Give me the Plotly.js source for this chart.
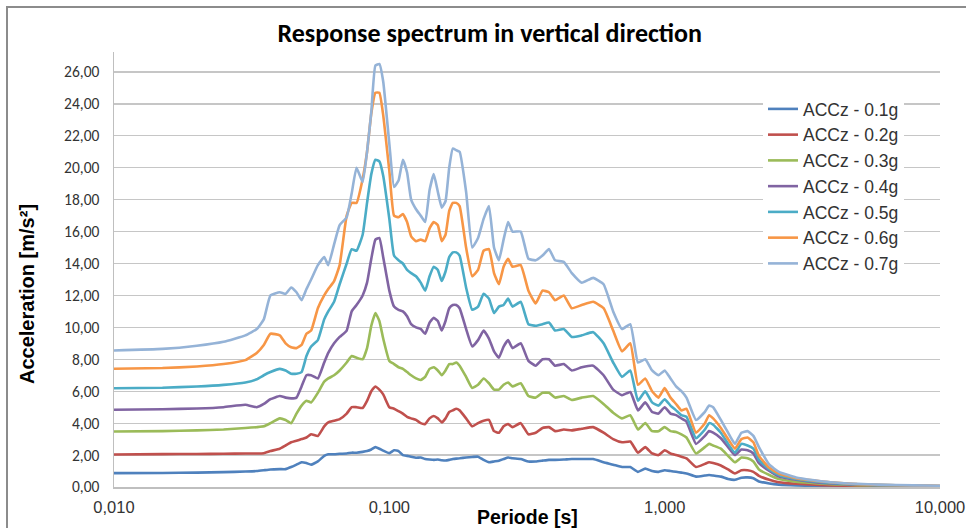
<!DOCTYPE html>
<html>
<head>
<meta charset="utf-8">
<script src="https://cdn.plot.ly/plotly-3.0.1.min.js"></script>
<style>
  html, body { margin:0; padding:0; background:#fff; overflow:hidden; }
  #chart { position:absolute; left:0; top:0; width:966px; height:528px; }
  #frame { position:absolute; left:6px; top:6px; width:1000px; height:600px;
           border-left:2px solid #8c8c8c; border-top:2px solid #8c8c8c; pointer-events:none; }
</style>
</head>
<body>
<div id="chart"></div>
<div id="frame"></div>
<script>
// Period [s]
const periods = [0.01,0.015,0.02,0.025,0.03,0.033,0.035,0.037,0.04,0.042,
  0.044,0.046,0.048,0.05,0.052,0.055,0.058,0.06,0.063,0.066,
  0.07,0.073,0.076,0.08,0.083,0.086,0.089,0.092,0.095,0.1,
  0.104,0.108,0.112,0.116,0.12,0.125,0.13,0.135,0.14,0.145,
  0.15,0.155,0.16,0.165,0.17,0.175,0.18,0.19,0.2,0.21,
  0.22,0.23,0.24,0.25,0.26,0.27,0.28,0.3,0.32,0.34,
  0.36,0.38,0.4,0.43,0.46,0.5,0.55,0.6,0.65,0.7,
  0.75,0.8,0.85,0.9,0.95,1.0,1.05,1.1,1.15,1.2,
  1.3,1.4,1.45,1.5,1.6,1.7,1.8,1.9,2.0,2.1,
  2.2,2.4,2.6,3.0,3.5,4,5,6,8,10];

// Acceleration [m/s²]
const acc01 = [0.87,0.88,0.9,0.93,0.97,1.0,1.05,1.1,1.12,1.12,
  1.25,1.4,1.55,1.5,1.4,1.6,1.95,2.05,2.05,2.08,
  2.1,2.15,2.15,2.2,2.25,2.35,2.5,2.4,2.28,2.12,
  2.3,2.25,2.0,1.95,1.9,1.83,1.85,1.75,1.72,1.7,
  1.72,1.68,1.66,1.7,1.75,1.78,1.8,1.85,1.88,1.9,
  1.7,1.55,1.6,1.65,1.75,1.85,1.8,1.75,1.6,1.6,
  1.65,1.7,1.7,1.72,1.75,1.75,1.75,1.55,1.4,1.25,
  1.25,0.95,1.15,1.0,0.95,1.05,1.0,0.95,0.9,0.85,
  0.65,0.72,0.75,0.72,0.65,0.5,0.45,0.58,0.6,0.55,
  0.35,0.22,0.15,0.1,0.07,0.05,0.04,0.03,0.02,0.02];
const acc02 = [2.04,2.06,2.07,2.08,2.1,2.1,2.12,2.25,2.4,2.6,
  2.8,2.9,3.0,3.1,3.3,3.2,3.8,4.05,4.15,4.25,
  4.6,5.0,5.0,4.95,5.4,6.0,6.3,6.1,5.8,5.0,
  4.9,4.75,4.6,4.4,4.3,4.2,4.0,3.95,4.3,4.45,
  4.3,4.05,4.3,4.7,4.8,4.9,4.8,4.3,3.8,4.0,
  4.15,4.2,3.5,3.4,3.8,3.95,3.75,4.0,3.3,3.4,
  3.7,3.75,3.5,3.6,3.55,3.65,3.75,3.4,3.0,2.8,
  2.85,2.15,2.5,2.1,2.0,2.3,2.1,2.0,1.9,1.8,
  1.25,1.45,1.55,1.5,1.35,1.1,0.85,1.05,1.05,0.95,
  0.7,0.45,0.3,0.2,0.14,0.1,0.07,0.05,0.04,0.03];
const acc03 = [3.48,3.5,3.55,3.6,3.7,3.75,3.8,4.0,4.3,4.2,
  4.0,4.6,5.1,5.4,5.3,5.9,6.6,6.8,7.0,7.3,
  7.8,8.2,8.1,8.0,8.7,10.1,10.9,10.4,9.3,7.9,
  7.7,7.5,7.4,7.2,7.0,6.8,6.7,6.9,7.4,7.5,
  7.3,7.0,7.3,7.7,7.7,7.8,7.6,6.9,6.2,6.4,
  6.8,6.5,6.1,6.1,6.4,6.55,6.3,6.5,5.7,5.6,
  5.9,5.9,5.6,5.7,5.45,5.6,5.7,5.2,4.65,4.3,
  4.5,3.6,4.0,3.5,3.5,3.75,3.5,3.45,3.3,3.1,
  2.1,2.5,2.7,2.6,2.4,1.95,1.55,1.85,1.8,1.6,
  1.1,0.75,0.5,0.33,0.24,0.17,0.12,0.09,0.06,0.04];
const acc04 = [4.84,4.87,4.92,5.0,5.15,5.0,5.2,5.5,5.7,5.6,
  5.55,5.6,6.3,7.0,7.0,6.8,7.8,8.4,9.0,9.4,
  9.8,11.0,11.4,12.0,12.8,14.3,15.5,15.6,14.4,12.3,
  11.3,11.1,11.0,10.7,10.2,10.0,9.9,9.6,10.3,10.6,
  10.4,9.8,10.4,11.2,11.4,11.4,11.2,9.9,8.8,9.2,
  9.8,9.3,8.5,8.1,8.8,9.2,8.7,9.0,7.9,7.6,
  8.0,8.0,7.6,7.7,7.3,7.5,7.6,7.0,6.1,5.75,
  5.95,4.8,5.3,4.7,4.6,5.0,4.6,4.5,4.3,4.1,
  2.7,3.2,3.5,3.4,3.05,2.5,2.0,2.35,2.3,2.1,
  1.5,1.0,0.65,0.45,0.3,0.22,0.15,0.11,0.07,0.05];
const acc05 = [6.19,6.22,6.3,6.4,6.55,6.75,7.0,7.2,7.4,7.3,
  7.1,7.1,7.2,8.2,8.8,9.2,10.5,11.0,11.6,12.7,
  14.0,14.9,14.8,15.8,17.8,19.6,20.5,20.4,19.5,16.8,
  14.5,14.2,14.0,13.6,13.4,13.2,12.8,12.3,13.2,13.8,
  13.6,12.9,13.5,14.4,14.7,14.7,14.5,12.5,11.1,11.3,
  12.1,11.8,10.9,11.3,11.4,11.8,11.3,11.6,10.2,10.1,
  10.2,10.3,9.8,9.9,9.4,9.5,9.7,9.0,7.8,6.9,
  7.3,5.4,6.0,5.3,5.1,5.5,5.1,4.8,4.5,4.4,
  3.05,3.6,4.0,3.9,3.4,2.7,2.15,2.7,2.6,2.4,
  1.7,1.1,0.75,0.5,0.35,0.25,0.16,0.12,0.08,0.06];
const acc06 = [7.41,7.45,7.55,7.7,7.95,8.4,8.9,9.6,9.5,9.0,
  8.75,8.7,8.9,9.6,9.8,11.2,12.0,12.4,12.9,13.9,
  17.0,17.8,17.8,19.3,21.0,23.4,24.7,24.7,23.3,19.8,
  17.0,16.9,17.1,16.6,15.7,15.4,15.5,15.4,16.2,16.6,
  16.4,15.4,15.8,17.3,17.8,17.8,17.6,15.0,13.2,13.6,
  14.8,14.9,13.4,12.7,13.8,14.3,13.8,13.9,12.3,11.5,
  12.3,12.2,11.7,12.0,11.2,11.4,11.6,11.2,9.8,8.5,
  9.0,6.4,6.8,6.0,5.6,6.2,5.6,5.2,4.8,4.9,
  3.4,4.0,4.5,4.3,3.7,3.0,2.4,3.0,3.1,2.8,
  1.95,1.2,0.85,0.55,0.4,0.3,0.18,0.13,0.09,0.07];
const acc07 = [8.55,8.65,8.85,9.1,9.5,9.9,10.5,12.0,12.2,12.1,
  12.5,12.2,11.7,12.4,13.0,13.9,14.4,13.9,15.2,16.4,
  16.9,18.4,20.0,19.1,21.0,23.5,26.4,26.5,25.4,21.5,
  18.8,19.2,20.5,19.7,18.0,17.4,17.0,16.6,18.6,19.6,
  18.5,17.5,17.9,20.0,21.2,21.1,21.0,18.5,15.0,15.6,
  16.8,17.6,15.0,14.2,15.5,16.6,16.0,16.0,14.3,14.2,
  14.5,14.9,14.2,14.1,13.4,12.8,13.1,12.7,11.0,9.9,
  10.2,7.8,8.0,7.3,7.0,7.3,6.8,6.3,6.0,5.6,
  4.2,4.7,5.1,5.0,4.2,3.4,2.7,3.4,3.5,3.2,
  2.5,1.4,0.95,0.6,0.42,0.3,0.2,0.15,0.1,0.08];

const seriesNames = ['ACCz - 0.1g','ACCz - 0.2g','ACCz - 0.3g','ACCz - 0.4g','ACCz - 0.5g','ACCz - 0.6g','ACCz - 0.7g'];
const seriesColors = ['#4F81BD','#C0504D','#9BBB59','#8064A2','#4BACC6','#F79646','#95B3D7'];
const seriesValues = [acc01, acc02, acc03, acc04, acc05, acc06, acc07];

const xTickVals = [0.01, 0.1, 1, 10];
const xTickText = ['0,010', '0,100', '1,000', '10,000'];
const yTickVals = [0,2,4,6,8,10,12,14,16,18,20,22,24,26];
const yTickText = ['0,00','2,00','4,00','6,00','8,00','10,00','12,00','14,00','16,00','18,00','20,00','22,00','24,00','26,00'];

const chartTitle = 'Response spectrum in vertical direction';
const xTitle = 'Periode [s]';
const yTitle = 'Acceleration [m/s²]';

const traces = seriesValues.map((vals, i) => ({
  type: 'scatter', mode: 'lines', x: periods, y: vals, name: seriesNames[i],
  line: { color: seriesColors[i], width: 2.6, shape: 'spline', smoothing: 0.4 }
}));

const layout = {
  width: 966, height: 528,
  margin: { l: 114, r: 26, t: 52, b: 41, pad: 0 },
  paper_bgcolor: '#ffffff', plot_bgcolor: '#ffffff',
  showlegend: true,
  title: {
    text: chartTitle,
    x: 0.507, xref: 'container', xanchor: 'center',
    y: 0.937, yref: 'container', yanchor: 'middle',
    font: { family: 'Carlito, Lato, sans-serif', size: 26, color: '#000000', weight: 700 }
  },
  xaxis: {
    type: 'log', range: [-2, 1],
    tickvals: xTickVals, ticktext: xTickText,
    showgrid: false, zeroline: false,
    showline: true, linecolor: '#bfbfbf', linewidth: 1.5,
    ticks: '', ticklabelstandoff: 5,
    tickfont: { family: '"Liberation Sans", Arial, sans-serif', size: 16.5, color: '#333333' }
  },
  yaxis: {
    range: [0, 27.25],
    tickvals: yTickVals, ticktext: yTickText,
    showgrid: true, gridcolor: '#c6c6c6', gridwidth: 1.3,
    zeroline: false, showline: true, linecolor: '#bfbfbf', linewidth: 1.5,
    ticks: '', ticklabelstandoff: 10,
    tickfont: { family: 'Carlito, Lato, sans-serif', size: 15.5, color: '#333333' }
  },
  legend: {
    x: 0.7857, xanchor: 'left', y: 0.9103, yanchor: 'top',
    bgcolor: '#ffffff', borderwidth: 0,
    font: { family: '"Liberation Sans", Arial, sans-serif', size: 17.5, color: '#333333' }
  },
  annotations: [
    { text: yTitle, textangle: -90, xref: 'paper', yref: 'paper',
      x: -0.1053, xanchor: 'center', y: 0.4437, yanchor: 'middle', showarrow: false,
      font: { family: '"Liberation Sans", Arial, sans-serif', size: 20, color: '#000000', weight: 700 } },
    { text: xTitle, xref: 'paper', yref: 'paper',
      x: 0.5, xanchor: 'center', y: -0.069, yanchor: 'middle', showarrow: false,
      font: { family: '"Liberation Sans", Arial, sans-serif', size: 19.5, color: '#000000', weight: 700 } }
  ]
};

Plotly.newPlot('chart', traces, layout, { displayModeBar: false, staticPlot: true });
</script>
</body>
</html>
